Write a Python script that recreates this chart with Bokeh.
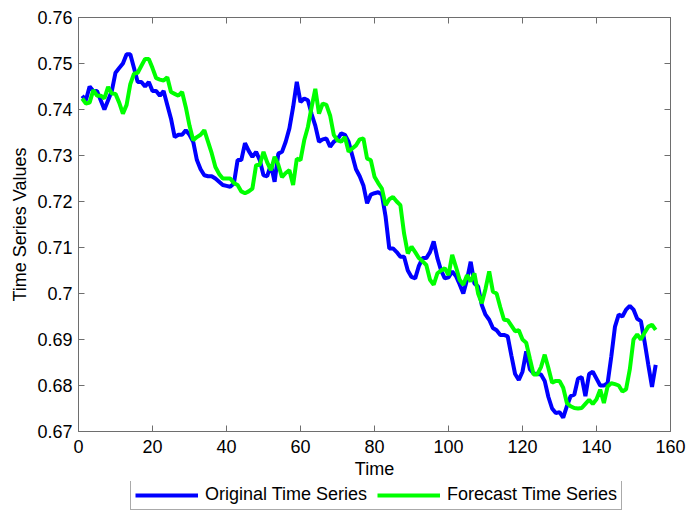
from bokeh.plotting import figure
from bokeh.models import Range1d, LinearAxis, FixedTicker, Legend, LegendItem
from bokeh.layouts import column
from bokeh.embed import file_html
from bokeh.resources import INLINE

# ---------------- data ----------------
time = list(range(1, 157))

original = [
    0.743, 0.742, 0.745, 0.744, 0.744, 0.742, 0.740, 0.742, 0.744, 0.748,
    0.749, 0.750, 0.752, 0.752, 0.749, 0.746, 0.746, 0.745, 0.746, 0.744,
    0.744, 0.743, 0.744, 0.741, 0.738, 0.734, 0.7345, 0.7345, 0.7355, 0.7345,
    0.733, 0.729, 0.727, 0.7257, 0.7255, 0.7255, 0.725, 0.7243, 0.7236, 0.7234,
    0.7232, 0.7239, 0.729, 0.729, 0.7327, 0.731, 0.7297, 0.7308, 0.729, 0.7257,
    0.7255, 0.728, 0.7243, 0.7304, 0.7308, 0.733, 0.7359, 0.7405, 0.746, 0.7416,
    0.7424, 0.742, 0.739, 0.7365, 0.733, 0.7335, 0.7337, 0.7319, 0.733, 0.7335,
    0.7348, 0.7345, 0.733, 0.730, 0.727, 0.7255, 0.7235, 0.7196, 0.7215, 0.7218,
    0.722, 0.7215, 0.7167, 0.7098, 0.7098, 0.709, 0.708, 0.708, 0.705, 0.7036,
    0.7033, 0.706, 0.7077, 0.7077, 0.709, 0.7113, 0.7077, 0.705, 0.7033, 0.7035,
    0.7048, 0.7038, 0.702, 0.700, 0.703, 0.7069, 0.7022, 0.7015, 0.6975, 0.6954,
    0.6943, 0.6925, 0.692, 0.691, 0.691, 0.6907, 0.6865, 0.6825, 0.6812, 0.683,
    0.6874, 0.6835, 0.6826, 0.6825, 0.6824, 0.681, 0.6775, 0.675, 0.674, 0.6742,
    0.673, 0.6755, 0.6777, 0.678, 0.6815, 0.6818, 0.6777, 0.6825, 0.683, 0.6815,
    0.680, 0.680, 0.6805, 0.6863, 0.6928, 0.6954, 0.695, 0.6965, 0.6973, 0.6965,
    0.6945, 0.694, 0.6895, 0.6845, 0.6797, 0.6845,
]

forecast = [
    0.7424, 0.7413, 0.7415, 0.7442, 0.743, 0.743, 0.7424, 0.7449, 0.7435, 0.7434,
    0.7415, 0.7391, 0.741, 0.7455, 0.7478, 0.748, 0.7495, 0.751, 0.751, 0.749,
    0.7468, 0.7465, 0.7463, 0.747, 0.7438, 0.7434, 0.743, 0.7438, 0.7405, 0.7365,
    0.7333, 0.734, 0.7345, 0.7355, 0.733, 0.7305, 0.7275, 0.726, 0.725, 0.725,
    0.725, 0.724, 0.7236, 0.7222, 0.7218, 0.7222, 0.7228, 0.7279, 0.728, 0.7308,
    0.7285, 0.7268, 0.7297, 0.728, 0.7253, 0.7262, 0.7268, 0.7236, 0.7293, 0.729,
    0.7333, 0.7362, 0.7405, 0.7445, 0.7391, 0.7413, 0.741, 0.7387, 0.7345, 0.7333,
    0.733, 0.734, 0.7308, 0.7315, 0.7322, 0.7335, 0.7337, 0.7293, 0.729, 0.7254,
    0.724, 0.7228, 0.7192, 0.7205, 0.721, 0.720, 0.7192, 0.713, 0.7087, 0.7102,
    0.709, 0.7077, 0.707, 0.7062, 0.703, 0.7019, 0.7044, 0.705, 0.7055, 0.704,
    0.7084, 0.7058, 0.703, 0.7019, 0.704, 0.7026, 0.7044, 0.700, 0.6979, 0.701,
    0.7048, 0.7004, 0.700, 0.697, 0.6943, 0.6942, 0.693, 0.6918, 0.692, 0.690,
    0.6893, 0.6858, 0.6824, 0.6824, 0.684, 0.6867, 0.6838, 0.6806, 0.681, 0.681,
    0.6795, 0.6762, 0.6755, 0.6751, 0.675, 0.6751, 0.676, 0.6769, 0.676, 0.677,
    0.6791, 0.6762, 0.6798, 0.6805, 0.6803, 0.680, 0.6787, 0.6792, 0.6835, 0.690,
    0.6911, 0.690, 0.6915, 0.6928, 0.6932, 0.6921,
]

x_ticks = [0, 20, 40, 60, 80, 100, 120, 140, 160]
y_ticks = [0.67, 0.68, 0.69, 0.70, 0.71, 0.72, 0.73, 0.74, 0.75, 0.76]
y_tick_labels = ["0.67", "0.68", "0.69", "0.7", "0.71", "0.72", "0.73", "0.74", "0.75", "0.76"]

series_names = ["Original Time Series", "Forecast Time Series"]
series_colors = ["#0000ff", "#00ff00"]

# ---------------- main figure ----------------
FONT = "Liberation Sans"
FS = "18px"
AX_COLOR = "#6e6e6e"

p = figure(width=689, height=481, output_backend="svg", toolbar_location=None,
           x_range=Range1d(0, 160), y_range=Range1d(0.67, 0.76),
           min_border_left=78, min_border_right=19, min_border_top=17,
           min_border_bottom=49)
p.grid.visible = False
p.outline_line_color = AX_COLOR
p.background_fill_color = "white"
p.border_fill_color = "white"

r1 = p.line(time, original, line_color=series_colors[0], line_width=4)
r2 = p.line(time, forecast, line_color=series_colors[1], line_width=4)

def style_axis(ax, ticks, show_labels):
    ax.ticker = FixedTicker(ticks=ticks)
    ax.minor_tick_line_color = None
    ax.major_tick_in = 6
    ax.major_tick_out = 0
    ax.axis_line_color = AX_COLOR
    ax.major_tick_line_color = AX_COLOR
    ax.major_label_text_font = FONT
    ax.axis_label_text_font = FONT
    ax.axis_label_text_font_size = FS
    ax.axis_label_text_font_style = "normal"
    ax.axis_label_text_color = "black"
    if show_labels:
        ax.major_label_text_font_size = FS
        ax.major_label_text_color = "black"
    else:
        ax.major_label_text_font_size = "1px"
        ax.major_label_text_color = None
        ax.major_label_standoff = 0

xa = p.xaxis[0]
ya = p.yaxis[0]
style_axis(xa, x_ticks, True)
style_axis(ya, y_ticks, True)
xa.axis_label = "Time"
ya.axis_label = "Time Series Values"
xa.major_label_standoff = 8
xa.axis_label_standoff = 3
ya.major_label_standoff = 6
ya.axis_label_standoff = 4
ya.major_label_overrides = dict(zip(y_ticks, y_tick_labels))

top_ax = LinearAxis()
right_ax = LinearAxis()
style_axis(top_ax, x_ticks, False)
style_axis(right_ax, y_ticks, False)
p.add_layout(top_ax, "above")
p.add_layout(right_ax, "right")

# ---------------- legend strip ----------------
# The strip's y range lies far above the data, so its lines stay off-screen
# and only serve as legend glyph sources.
lg = figure(width=689, height=30, output_backend="svg", toolbar_location=None,
            x_range=Range1d(0, 160), y_range=Range1d(10, 11),
            x_axis_type=None, y_axis_type=None,
            min_border_left=0, min_border_right=0, min_border_top=0,
            min_border_bottom=0)
lg.grid.visible = False
lg.outline_line_color = None
lg.border_fill_color = "white"
l1 = lg.line(time, original, line_color=series_colors[0], line_width=4)
l2 = lg.line(time, forecast, line_color=series_colors[1], line_width=4)

legend = Legend(items=[LegendItem(label=series_names[0], renderers=[l1]),
                       LegendItem(label=series_names[1], renderers=[l2])],
                orientation="horizontal", location=(52, 1))
legend.label_text_font = FONT
legend.label_text_font_size = FS
legend.label_text_color = "black"
legend.glyph_width = 63
legend.glyph_height = 18
legend.label_height = 18
legend.label_standoff = 7
legend.spacing = 10
legend.padding = 4
legend.margin = 0
legend.border_line_color = "#555555"
legend.border_line_width = 1
legend.background_fill_alpha = 1
lg.add_layout(legend, "center")

layout = column(p, lg, spacing=0)
open("out.html", "w").write(file_html(layout, INLINE))
